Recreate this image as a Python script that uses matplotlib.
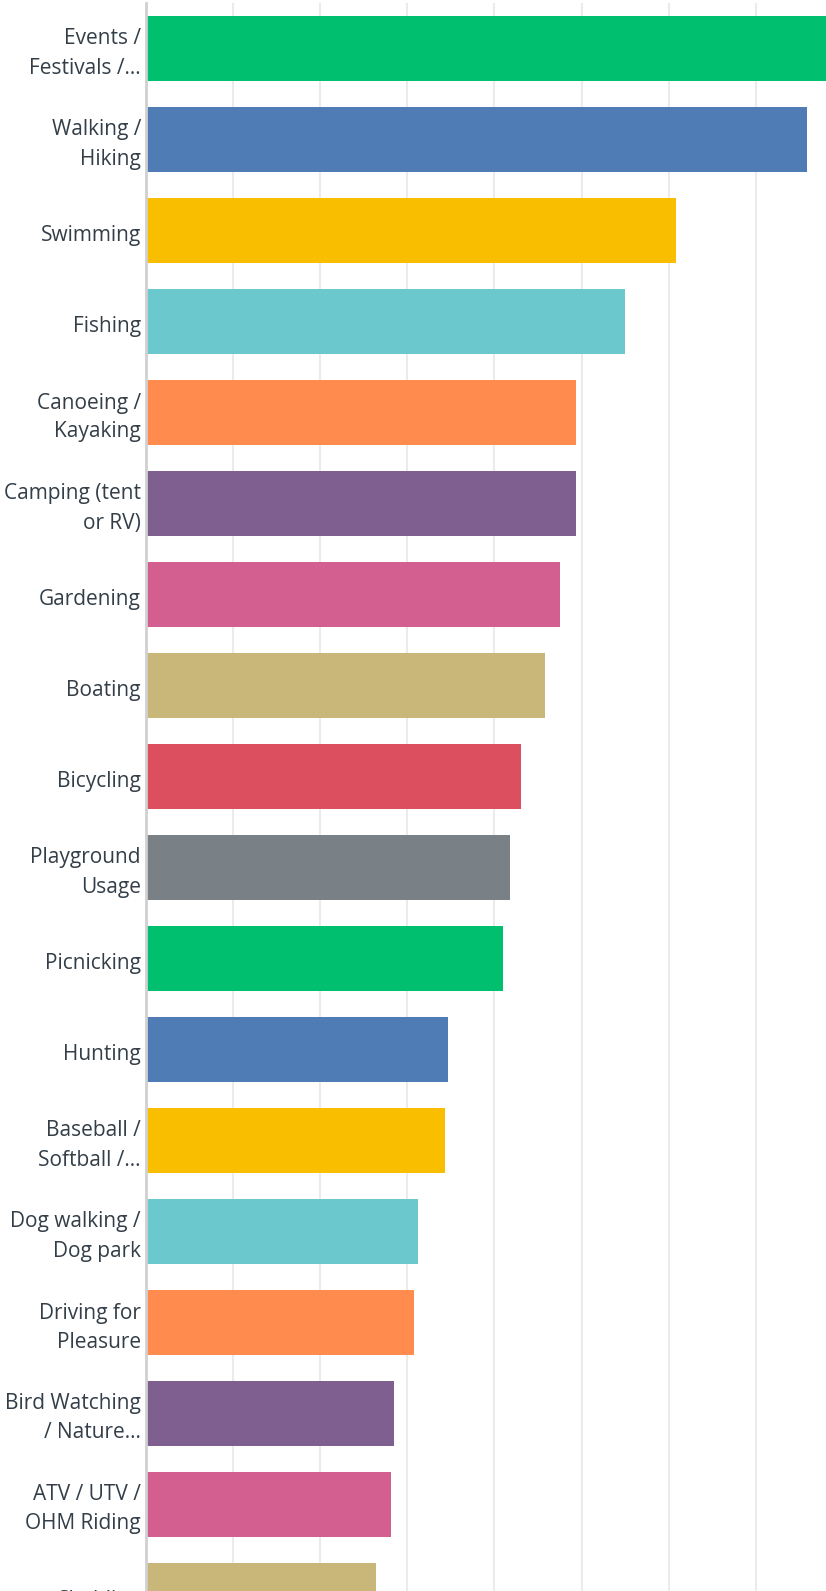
import matplotlib
matplotlib.use("Agg")
import matplotlib.pyplot as plt
from matplotlib.transforms import offset_copy

# ---- data ----
categories = [
    "Events /\nFestivals /…",
    "Walking /\nHiking",
    "Swimming",
    "Fishing",
    "Canoeing /\nKayaking",
    "Camping (tent\nor RV)",
    "Gardening",
    "Boating",
    "Bicycling",
    "Playground\nUsage",
    "Picnicking",
    "Hunting",
    "Baseball /\nSoftball /…",
    "Dog walking /\nDog park",
    "Driving for\nPleasure",
    "Bird Watching\n/ Nature…",
    "ATV / UTV /\nOHM Riding",
    "Sledding",
]
values = [80.0, 75.9, 60.8, 55.0, 49.4, 49.4, 47.5, 45.8, 43.1, 41.8,
          41.0, 34.7, 34.3, 31.3, 30.8, 28.5, 28.1, 26.4]
palette = ["#00BF6F", "#507CB6", "#F9BE00", "#6BC8CD", "#FF8B4F",
           "#7F5F90", "#D25F90", "#C9B77A", "#DC4F5E", "#7A8186"]

# ---- layout (pixels) ----
W, H = 826, 1591
left_px = 145.5
unit_px = 87.2          # pixels per 10 units
top_px = 3
step_px = 91
n = len(categories)
ax_w = unit_px * 10
ax_h = step_px * n

fig = plt.figure(figsize=(W / 100, H / 100), dpi=100)
fig.patch.set_facecolor("white")
ax = fig.add_axes([left_px / W, (H - top_px - ax_h) / H, ax_w / W, ax_h / H])

ypos = list(range(n))
colors = [palette[i % len(palette)] for i in range(n)]
ax.barh(ypos, values, height=65 / 91, color=colors, zorder=3)

ax.set_xlim(0, 100)
ax.set_ylim(n - 0.5, -0.5)
ax.set_xticks(range(0, 101, 10))
ax.set_yticks([])
ax.tick_params(axis="x", length=0, labelbottom=False)
ax.grid(axis="x", color="#ebebeb", linewidth=1.5, zorder=0)
ax.set_axisbelow(True)
for s in ["top", "right", "bottom"]:
    ax.spines[s].set_visible(False)
ax.spines["left"].set_color("#d0d0d0")
ax.spines["left"].set_linewidth(2)
ax.spines["left"].set_zorder(4)

label_x = (141 - left_px) / unit_px * 10
tr = offset_copy(ax.transData, fig=fig, x=0, y=-5, units="dots")
for y, lab in zip(ypos, categories):
    ax.text(label_x, y, lab, ha="right", va="center", multialignment="right",
            fontsize=15, family=["Open Sans", "DejaVu Sans"], color="#333e48",
            linespacing=1.5, clip_on=False, zorder=1, transform=tr)

fig.savefig("out.png", dpi=100, facecolor="white")
